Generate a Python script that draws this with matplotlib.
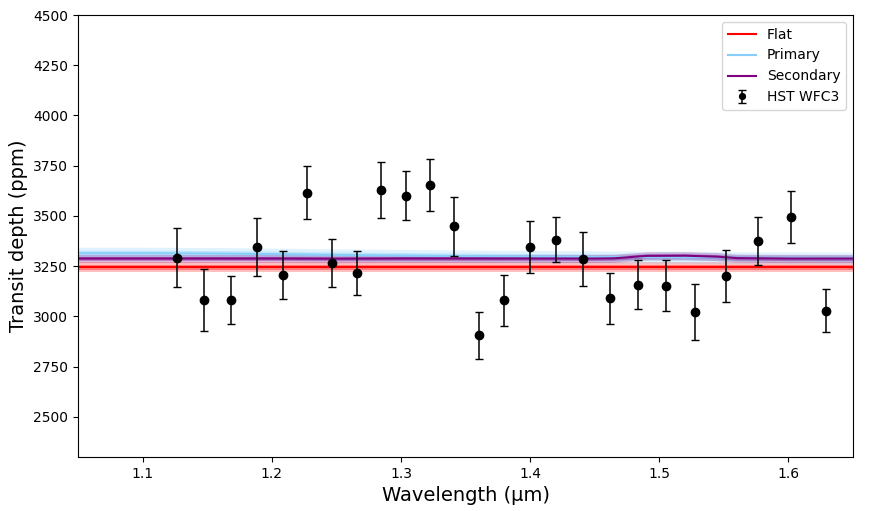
import numpy as np
import matplotlib
matplotlib.use("Agg")
import matplotlib.pyplot as plt

# HST WFC3 transmission spectrum
wavelength = [1.1263, 1.1477, 1.1684, 1.1885, 1.2084, 1.2275, 1.2464, 1.2657,
              1.2848, 1.3037, 1.3227, 1.3413, 1.3607, 1.3800, 1.4000, 1.4201,
              1.4408, 1.4617, 1.4834, 1.5055, 1.5280, 1.5515, 1.5765, 1.6023,
              1.6294]
depth = [3293, 3082, 3082, 3346, 3207, 3616, 3265, 3215,
         3628, 3601, 3653, 3449, 2905, 3079, 3346, 3382,
         3286, 3089, 3157, 3153, 3022, 3200, 3377, 3495,
         3029]
depth_err = [145, 153, 119, 144, 119, 130, 121, 108,
             138, 121, 131, 147, 119, 125, 129, 113,
             134, 125, 122, 128, 139, 128, 119, 129,
             108]

# model curves
wl_model = [1.05, 1.10, 1.15, 1.20, 1.25, 1.30, 1.35, 1.40, 1.45,
            1.465, 1.49, 1.52, 1.545, 1.56, 1.60, 1.65]
flat = [3245] * len(wl_model)
primary = [3314, 3314, 3313, 3310, 3306, 3303, 3300, 3298, 3296,
           3295, 3295, 3294, 3293, 3292, 3291, 3290]
secondary = [3288, 3288, 3288, 3288, 3287, 3288, 3288, 3288, 3288,
             3289, 3301, 3302, 3297, 3290, 3288, 3288]

flat_1s, flat_2s = 12, 24
primary_1s, primary_2s = 15, 30
secondary_1s, secondary_2s = 10, 20

fig = plt.figure(figsize=(8.7, 5.11), dpi=100)
ax = fig.add_axes([0.0897, 0.1057, 0.8908, 0.8649])

models = [("Flat", flat, flat_1s, flat_2s, "red"),
          ("Primary", primary, primary_1s, primary_2s, "lightskyblue"),
          ("Secondary", secondary, secondary_1s, secondary_2s, "purple")]

for name, m, s1, s2, col in models:
    m = np.array(m)
    ax.fill_between(wl_model, m - s2, m + s2, color=col, alpha=0.25, lw=0)
    ax.fill_between(wl_model, m - s1, m + s1, color=col, alpha=0.35, lw=0)
    ax.plot(wl_model, m, color=col, lw=1.5, label=name)

ax.errorbar(wavelength, depth, yerr=depth_err, fmt="o", color="black",
            ms=6, capsize=3, elinewidth=1.1, label="HST WFC3")

ax.set_xlim(1.05, 1.65)
ax.set_ylim(2300, 4500)
ax.set_yticks(np.arange(2500, 4501, 250))
ax.tick_params(labelsize=10)
ax.set_xlabel("Wavelength (µm)", fontsize=14)
ax.set_ylabel("Transit depth (ppm)", fontsize=14)
ax.legend(loc="upper right", fontsize=10, markerscale=0.7)

fig.savefig("out.png", dpi=100)
